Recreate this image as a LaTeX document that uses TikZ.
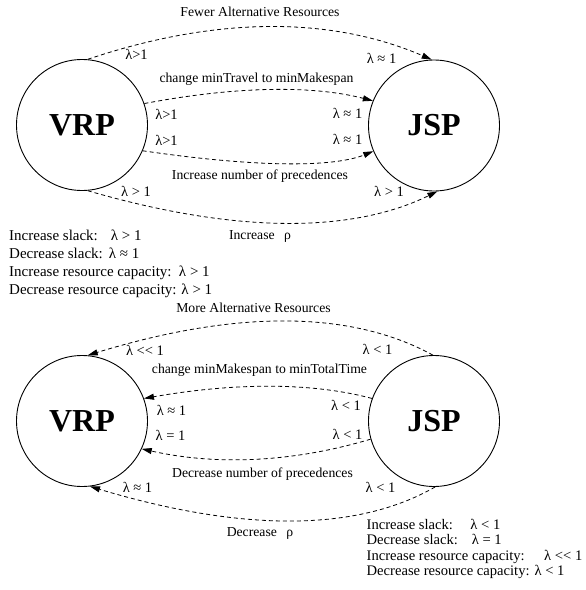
\documentclass[tikz,border=0pt]{standalone}
\usepackage{fontspec}
\setmainfont{Liberation Serif}
\usetikzlibrary{arrows.meta,calc}
\begin{document}
\begin{tikzpicture}[x=1pt,y=-1pt,
  state/.style={circle,draw,line width=0.9pt,minimum size=131pt,inner sep=0pt,font=\fontsize{32}{36}\selectfont\bfseries},
  conn/.style={dash pattern=on 4pt off 3pt,line width=0.8pt},
  fwd/.style={conn,-{Triangle[length=10pt,width=6pt]}},
  lbl/.style={inner sep=0pt,text height=0.7em,text depth=0.2em,font=\fontsize{13.7}{16}\selectfont},
  lam/.style={inner sep=0pt,text height=0.7em,text depth=0.2em,font=\fontsize{14.5}{17}\selectfont},
  lstA/.style={inner sep=0pt,anchor=west,text height=0.7em,text depth=0.2em,font=\fontsize{15}{18}\selectfont},
  lstB/.style={inner sep=0pt,anchor=west,text height=0.7em,text depth=0.2em,font=\fontsize{14.6}{17}\selectfont},
]
\useasboundingbox (0,0) rectangle (586,590);

% ---------- top diagram ----------
\node[state] (vrp1) at (82,125) {VRP};
\node[state] (jsp1) at (434,125.5) {JSP};

\coordinate (ct1) at (280.5,-5.5);
\coordinate (ct2) at (282,77.4);
\coordinate (ct3) at (312.5,175.7);
\coordinate (ct4) at (308,254.7);

\draw[fwd] (vrp1.85) .. controls ($(vrp1.85)!2/3!(ct1)$) and ($(jsp1.92)!2/3!(ct1)$) .. (jsp1.92);
\draw[fwd] (vrp1.19.5) .. controls ($(vrp1.19.5)!2/3!(ct2)$) and ($(jsp1.158.5)!2/3!(ct2)$) .. (jsp1.158.5);
\draw[fwd] (vrp1.-23.7) .. controls ($(vrp1.-23.7)!2/3!(ct3)$) and ($(jsp1.-157)!2/3!(ct3)$) .. (jsp1.-157);
\draw[fwd] (vrp1.-85.5) .. controls ($(vrp1.-85.5)!2/3!(ct4)$) and ($(jsp1.-87.6)!2/3!(ct4)$) .. (jsp1.-87.6);

\node[lbl] (t1) at (260,13.5) {Fewer Alternative Resources};
\node[lam] (t1a) at (136.5,56.5) {λ>1};
\node[lam] (t1b) at (381.5,61) {λ ≈ 1};
\node[lbl] (t2) at (256.5,80) {change minTravel to minMakespan};
\node[lam] (t2a) at (166.5,116.5) {λ>1};
\node[lam] (t2b) at (347.5,116) {λ ≈ 1};
\node[lam] (t3a) at (166.5,142.5) {λ>1};
\node[lam] (t3b) at (347.5,141.7) {λ ≈ 1};
\node[lbl] (t3) at (260,176.7) {Increase number of precedences};
\node[lam] (t4a) at (136,194.3) {λ > 1};
\node[lam] (t4b) at (389,194.3) {λ > 1};
\node[lbl] (t4) at (260,236.7) {Increase\hspace{6pt} ρ};

\node[lstA] (la1) at (9,237.5) {Increase slack:};
\node[lstA] (la1v) at ($(la1.east)+(12.5,0)$) {λ > 1};
\node[lstA] (la2) at (9,255.8) {Decrease slack:};
\node[lstA] (la2v) at ($(la2.east)+(5.5,0)$) {λ ≈ 1};
\node[lstA] (la3) at (9,274) {Increase resource capacity:};
\node[lstA] (la3v) at ($(la3.east)+(7,0)$) {λ > 1};
\node[lstA] (la4) at (9,292.3) {Decrease resource capacity:};
\node[lstA] (la4v) at ($(la4.east)+(4.5,0)$) {λ > 1};

% ---------- bottom diagram ----------
\node[state] (vrp2) at (82,421) {VRP};
\node[state] (jsp2) at (434,421) {JSP};

\coordinate (cb1) at (309.2,287.4);
\coordinate (cb2) at (282,374.4);
\coordinate (cb3) at (253.8,474);
\coordinate (cb4) at (317.5,554.7);

\draw[fwd] (jsp2.91) .. controls ($(jsp2.91)!2/3!(cb1)$) and ($(vrp2.85)!2/3!(cb1)$) .. (vrp2.85);
\draw[fwd] (jsp2.160) .. controls ($(jsp2.160)!2/3!(cb2)$) and ($(vrp2.20)!2/3!(cb2)$) .. (vrp2.20);
\draw[fwd] (jsp2.196) .. controls ($(jsp2.196)!2/3!(cb3)$) and ($(vrp2.-25)!2/3!(cb3)$) .. (vrp2.-25);
\draw[fwd] (jsp2.-89) .. controls ($(jsp2.-89)!2/3!(cb4)$) and ($(vrp2.-83)!2/3!(cb4)$) .. (vrp2.-83);

\node[lbl] (b1) at (253.5,310) {More Alternative Resources};
\node[lam] (b1a) at (145,352.7) {λ <{}< 1};
\node[lam] (b1b) at (377.5,351.7) {λ < 1};
\node[lbl] (b2) at (259.5,371) {change minMakespan to minTotalTime};
\node[lam] (b2a) at (171.5,412.5) {λ ≈ 1};
\node[lam] (b2b) at (346,408) {λ < 1};
\node[lam] (b3a) at (170.5,437.7) {λ = 1};
\node[lam] (b3b) at (347.5,436.7) {λ < 1};
\node[lbl] (b3) at (262.5,475) {Decrease number of precedences};
\node[lam] (b4a) at (137.5,490) {λ ≈ 1};
\node[lam] (b4b) at (380.5,490) {λ < 1};
\node[lbl] (b4) at (260,534) {Decrease\hspace{6pt} ρ};

\node[lstB] (lb1) at (366.5,526.7) {Increase slack:};
\node[lstB] (lb1v) at ($(lb1.east)+(17,0)$) {λ < 1};
\node[lstB] (lb2) at (366.5,541.8) {Decrease slack:};
\node[lstB] (lb2v) at ($(lb2.east)+(13.5,0)$) {λ = 1};
\node[lstB] (lb3) at (366.5,557.5) {Increase resource capacity:};
\node[lstB] (lb3v) at ($(lb3.east)+(19,0)$) {λ <{}< 1};
\node[lstB] (lb4) at (366.5,573) {Decrease resource capacity:};
\node[lstB] (lb4v) at ($(lb4.east)+(4.5,0)$) {λ < 1};
\end{tikzpicture}
\end{document}
